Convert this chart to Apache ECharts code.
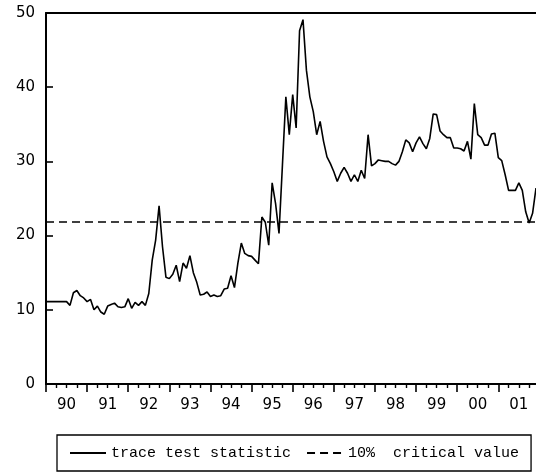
<!DOCTYPE html>
<html>
<head>
<meta charset="utf-8">
<script src="https://cdn.jsdelivr.net/npm/echarts@6/dist/echarts.min.js"></script>
<style>
html,body{margin:0;padding:0;background:#fff;}
#chart{width:536px;height:472px;}
</style>
</head>
<body>
<div id="chart"></div>
<script>
// Monthly observations 1990M01 .. 2001M12
var startYear = 1990;
var endYear = 2001;
var yearLabels = ['90','91','92','93','94','95','96','97','98','99','00','01'];
var yTicks = [0, 10, 20, 30, 40, 50];

var traceStat = [
  11.1, 11.1, 11.1, 11.1, 11.1, 11.1, 11.1, 10.6, 12.3, 12.6, 11.9, 11.6,
  11.1, 11.4, 10.0, 10.5, 9.7, 9.4, 10.5, 10.7, 10.9, 10.4, 10.3, 10.4,
  11.5, 10.2, 11.0, 10.6, 11.1, 10.6, 12.2, 16.7, 19.4, 24.0, 18.5, 14.4,
  14.2, 14.8, 16.0, 13.8, 16.3, 15.6, 17.3, 15.0, 13.7, 12.0, 12.1, 12.4,
  11.8, 12.0, 11.8, 11.9, 12.8, 12.9, 14.6, 13.0, 16.3, 19.0, 17.6, 17.3,
  17.2, 16.7, 16.2, 22.5, 21.8, 18.7, 27.1, 24.3, 20.3, 29.5, 38.7, 33.6,
  39.0, 34.5, 47.6, 49.1, 42.3, 38.7, 36.7, 33.6, 35.4, 32.7, 30.6, 29.7,
  28.6, 27.3, 28.4, 29.2, 28.4, 27.3, 28.2, 27.3, 28.8, 27.7, 33.6, 29.4,
  29.7, 30.2, 30.1, 30.0, 30.0, 29.7, 29.5, 30.0, 31.3, 32.9, 32.5, 31.3,
  32.5, 33.3, 32.4, 31.7, 33.1, 36.4, 36.3, 34.1, 33.6, 33.2, 33.2, 31.8,
  31.8, 31.7, 31.4, 32.7, 30.3, 37.8, 33.6, 33.2, 32.2, 32.2, 33.7, 33.8,
  30.5, 30.1, 28.2, 26.1, 26.1, 26.1, 27.1, 26.1, 23.2, 21.7, 23.0, 26.4
];
var criticalValue = 21.9;

var months = [];
for (var y = startYear; y <= endYear; y++) {
  for (var m = 1; m <= 12; m++) {
    months.push(y + 'M' + (m < 10 ? '0' + m : m));
  }
}

var FONT = 'DejaVu Sans';
var chart = echarts.init(document.getElementById('chart'), null, {renderer: 'canvas'});
chart.setOption({
  animation: false,
  backgroundColor: '#fff',
  grid: {left: 46, top: 13, right: 0, bottom: 88, containLabel: false},
  legend: {
    left: 57, top: 435,
    padding: [9, 12, 9, 12],
    borderColor: '#000', borderWidth: 1.3,
    itemWidth: 36, itemHeight: 14, itemGap: 15,
    itemStyle: {opacity: 0, borderWidth: 0},
    textStyle: {fontFamily: 'Liberation Mono', fontSize: 15, color: '#000', lineHeight: 18},
    data: ['trace test statistic', '10%  critical value']
  },
  xAxis: [
    {
      type: 'category', data: months, boundaryGap: false, position: 'bottom',
      axisLine: {show: true, lineStyle: {color: '#000', width: 2}},
      axisTick: {show: true, length: 8, lineStyle: {color: '#000', width: 1.6},
        interval: function (i) { return i % 12 === 0; }},
      axisLabel: {show: true, margin: 14, color: '#000', fontFamily: FONT, fontSize: 15,
        interval: function (i) { return i % 12 === 6; },
        formatter: function (v, i) { return yearLabels[Math.floor(i / 12)]; }},
      splitLine: {show: false}
    },
    {
      type: 'category', data: months, boundaryGap: false, position: 'bottom',
      axisLine: {show: false},
      axisTick: {show: true, length: 4, lineStyle: {color: '#000', width: 1.4},
        interval: function (i) { return i % 3 === 0 && i % 12 !== 0; }},
      axisLabel: {show: false},
      splitLine: {show: false}
    },
    {
      type: 'category', data: months, boundaryGap: false, position: 'top',
      axisLine: {show: true, lineStyle: {color: '#000', width: 2}},
      axisTick: {show: false}, axisLabel: {show: false}, splitLine: {show: false}
    }
  ],
  yAxis: {
    type: 'value', min: yTicks[0], max: yTicks[yTicks.length - 1], interval: 10,
    axisLine: {show: true, lineStyle: {color: '#000', width: 2}},
    axisTick: {show: true, inside: true, length: 7, lineStyle: {color: '#000', width: 1.6}},
    axisLabel: {show: true, margin: 11, color: '#000', fontFamily: FONT, fontSize: 15},
    splitLine: {show: false}
  },
  series: [
    {
      name: 'trace test statistic', type: 'line', xAxisIndex: 0,
      data: traceStat, symbol: 'none', showSymbol: false,
      lineStyle: {color: '#000', width: 1.6}, itemStyle: {color: '#000'}
    },
    {
      name: '10%  critical value', type: 'line', xAxisIndex: 0,
      data: [], symbol: 'none', showSymbol: false,
      lineStyle: {color: '#000', width: 1.5, type: [8, 5]}, itemStyle: {color: '#000'},
      markLine: {
        silent: true, symbol: ['none', 'none'], label: {show: false},
        lineStyle: {color: '#000', width: 1.5, type: [8, 5]},
        data: [{yAxis: criticalValue}]
      }
    }
  ]
});
</script>
</body>
</html>
